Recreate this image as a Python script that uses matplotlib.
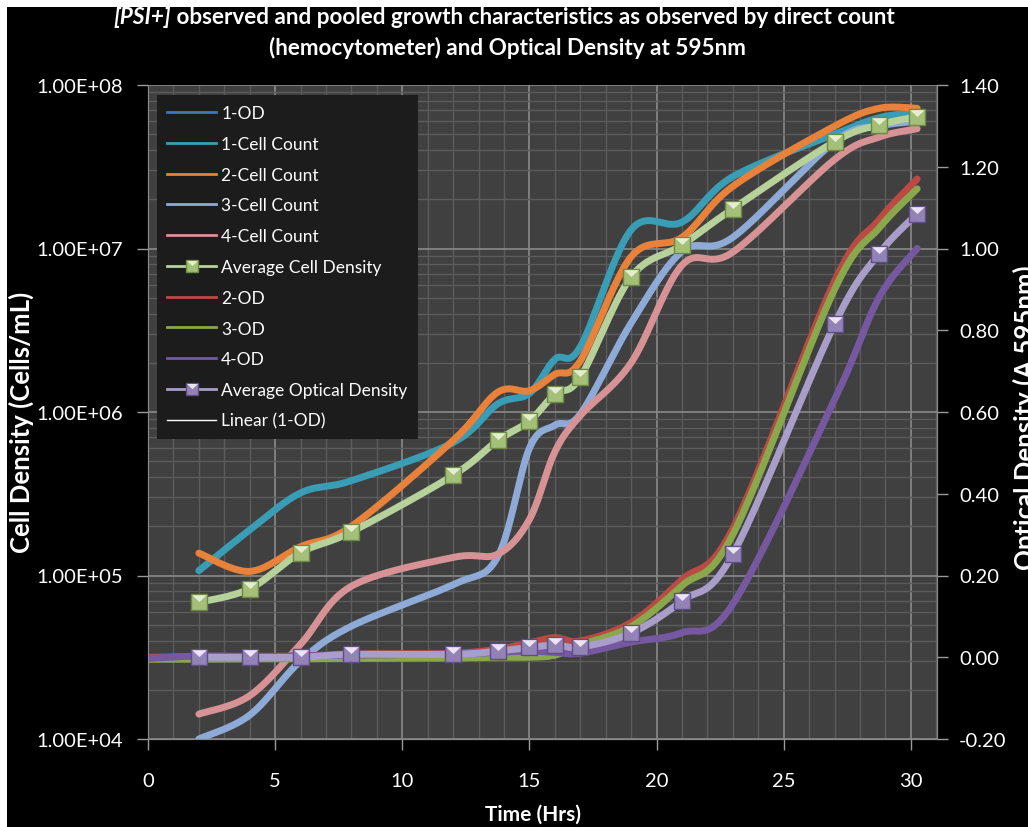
import numpy as np
import matplotlib
matplotlib.use('Agg')
import matplotlib.pyplot as plt
from matplotlib.lines import Line2D
from matplotlib.path import Path
from matplotlib.patches import Rectangle
from matplotlib.legend_handler import HandlerTuple
from matplotlib.ticker import MultipleLocator, LogLocator

plt.rcParams['font.family'] = ['Lato', 'DejaVu Sans']

# sampling times (hours)
cell_time = [2, 4, 6, 8, 12, 13.75, 15, 16, 17, 19, 21, 23, 27, 28.75, 30.25]
od_time = [0, 2, 4, 6, 8, 12, 13.75, 15, 16, 17, 19, 21, 23, 27, 28.75, 30.25]

# direct counts (cells/mL)
cell_count_1 = [1.07e5, 1.9e5, 3.2e5, 3.8e5, 6.5e5, 1.12e6, 1.3e6, 2.1e6, 2.5e6, 1.3e7, 1.45e7, 2.75e7, 5.0e7, 6.3e7, 6.8e7]
cell_count_2 = [1.37e5, 1.06e5, 1.5e5, 2.0e5, 6.7e5, 1.32e6, 1.35e6, 1.7e6, 2.05e6, 8.9e6, 1.17e7, 2.4e7, 5.6e7, 7.2e7, 7.2e7]
cell_count_3 = [1.0e4, 1.4e4, 3.0e4, 4.9e4, 8.8e4, 1.3e5, 6.0e5, 8.3e5, 9.7e5, 3.5e6, 9.6e6, 1.17e7, 4.5e7, 5.6e7, 6.0e7]
cell_count_4 = [1.42e4, 1.84e4, 3.8e4, 8.6e4, 1.29e5, 1.35e5, 2.2e5, 5.7e5, 9.5e5, 2.0e6, 7.9e6, 9.5e6, 3.5e7, 4.8e7, 5.4e7]
avg_cell_density = [6.85e4, 8.3e4, 1.38e5, 1.85e5, 4.1e5, 6.7e5, 8.8e5, 1.29e6, 1.63e6, 6.7e6, 1.05e7, 1.75e7, 4.5e7, 5.7e7, 6.4e7]

# optical density at 595nm
od_1 = []
od_1_time = []
od_2 = [0.0, 0.002, 0.002, 0.003, 0.008, 0.01, 0.02, 0.035, 0.048, 0.04, 0.085, 0.19, 0.315, 0.92, 1.07, 1.17]
od_3 = [-0.005, -0.005, -0.004, -0.004, -0.003, -0.002, 0.0, 0.0, 0.005, 0.03, 0.075, 0.175, 0.30, 0.90, 1.05, 1.146]
od_4 = [-0.003, 0.003, 0.002, 0.003, 0.005, 0.008, 0.012, 0.015, 0.012, 0.01, 0.037, 0.06, 0.13, 0.63, 0.88, 1.0]
avg_od = [0.0, 0.0, 0.0, 0.007, 0.007, 0.015, 0.024, 0.03, 0.025, 0.059, 0.138, 0.252, 0.815, 0.987, 1.085]

cell_ticks = [1e4, 1e5, 1e6, 1e7, 1e8]
cell_tick_labels = ['1.00E+04', '1.00E+05', '1.00E+06', '1.00E+07', '1.00E+08']
od_ticks = [-0.2, 0.0, 0.2, 0.4, 0.6, 0.8, 1.0, 1.2, 1.4]
od_tick_labels = ['-0.20', '0.00', '0.20', '0.40', '0.60', '0.80', '1.00', '1.20', '1.40']
time_ticks = [0, 5, 10, 15, 20, 25, 30]


def smooth(xs, ys, n=40):
    # bezier smoothing through every point, same as a spreadsheet "smoothed line"
    p = np.column_stack([xs, ys]).astype(float)
    p = np.vstack([p[0], p, p[-1]])
    t = np.linspace(0, 1, n)[:, None]
    segs = []
    for i in range(1, len(p) - 2):
        p0, p1, p2, p3 = p[i - 1], p[i], p[i + 1], p[i + 2]
        c1 = p1 + (p2 - p0) / 6
        c2 = p2 - (p3 - p1) / 6
        segs.append((1 - t) ** 3 * p1 + 3 * (1 - t) ** 2 * t * c1 + 3 * (1 - t) * t ** 2 * c2 + t ** 3 * p2)
    c = np.vstack(segs)
    return c[:, 0], c[:, 1]


def log_curve(ax, xs, ys, **kw):
    sx, sy = smooth(xs, np.log10(ys))
    return ax.plot(sx, 10 ** sy, solid_capstyle='round', **kw)[0]


def lin_curve(ax, xs, ys, **kw):
    if len(xs) == 0:
        return ax.plot(xs, ys, **kw)[0]
    sx, sy = smooth(xs, ys)
    return ax.plot(sx, sy, solid_capstyle='round', **kw)[0]


# bevelled square marker: square body plus a lighter triangle on top
bevel = Path([(-0.85, 0.85), (0.85, 0.85), (0.0, 0.05), (-0.85, 0.85)],
             [Path.MOVETO, Path.LINETO, Path.LINETO, Path.CLOSEPOLY])

fig = plt.figure(figsize=(10.28, 8.28), dpi=100, facecolor='white')
fig.add_artist(Rectangle((7 / 1028, 0), 1, 820 / 828, transform=fig.transFigure,
                         facecolor='black', edgecolor='none', zorder=-10))

ax = fig.add_axes([148 / 1028, 88 / 828, 789 / 1028, 654 / 828])
ax.set_facecolor('#404040')
ax.set_yscale('log')
ax.set_ylim(1e4, 1e8)
ax.set_xlim(0, 31.03)
ax.set_axisbelow(True)
ax.xaxis.set_minor_locator(MultipleLocator(1))
ax.yaxis.set_minor_locator(LogLocator(base=10, subs=np.arange(2, 10)))
ax.grid(which='minor', color='#5c5c5c', lw=1.0)
ax.grid(which='major', color='#8a8a8a', lw=1.2)
ax.set_xticks(time_ticks, [str(v) for v in time_ticks])
ax.set_yticks(cell_ticks, cell_tick_labels)
ax.tick_params(which='minor', length=0)
ax.tick_params(which='major', direction='out', length=8, width=1, color='#9a9a9a',
               labelcolor='white', labelsize=14.5)
ax.tick_params(axis='x', pad=16)
ax.tick_params(axis='y', pad=10)
for s in ax.spines.values():
    s.set_color('#8a8a8a')
ax.spines['top'].set_visible(False)

ax2 = ax.twinx()
ax2.set_ylim(-0.2, 1.4)
ax2.set_yticks(od_ticks, od_tick_labels)
ax2.tick_params(which='major', direction='out', length=8, width=1, color='#9a9a9a',
                labelcolor='white', labelsize=14.5, pad=8)
for s in ax2.spines.values():
    s.set_color('#8a8a8a')
ax2.spines['top'].set_visible(False)

lw = 5
styles = {
    '1-OD': '#3f74b8',
    '1-Cell Count': '#3a9db6',
    '2-Cell Count': '#e8823a',
    '3-Cell Count': '#8eabd8',
    '4-Cell Count': '#d69294',
    'Average Cell Density': '#b6d19a',
    '2-OD': '#bb4a44',
    '3-OD': '#88a84b',
    '4-OD': '#7558a0',
    'Average Optical Density': '#a99dc9',
    'Linear (1-OD)': '#ffffff',
}

lin_curve(ax2, od_1_time, od_1, color=styles['1-OD'], lw=lw)
log_curve(ax, cell_time, cell_count_1, color=styles['1-Cell Count'], lw=lw)
log_curve(ax, cell_time, cell_count_2, color=styles['2-Cell Count'], lw=lw)
log_curve(ax, cell_time, cell_count_3, color=styles['3-Cell Count'], lw=lw)
log_curve(ax, cell_time, cell_count_4, color=styles['4-Cell Count'], lw=lw)
log_curve(ax, cell_time, avg_cell_density, color=styles['Average Cell Density'], lw=lw)
ax.plot(cell_time, avg_cell_density, ls='none', marker='s', ms=12,
        mfc='#a3bf78', mec='#6d8a45', mew=1)
ax.plot(cell_time, avg_cell_density, ls='none', marker=bevel, ms=10.5,
        mfc='#e4eecf', mec='none')

lin_curve(ax2, od_time, od_2, color=styles['2-OD'], lw=lw)
lin_curve(ax2, od_time, od_3, color=styles['3-OD'], lw=lw)
lin_curve(ax2, od_time, od_4, color=styles['4-OD'], lw=lw)
lin_curve(ax2, cell_time, avg_od, color=styles['Average Optical Density'], lw=lw)
ax2.plot(cell_time, avg_od, ls='none', marker='s', ms=12,
         mfc='#9282b6', mec='#5f4d85', mew=1)
ax2.plot(cell_time, avg_od, ls='none', marker=bevel, ms=10.5,
         mfc='#ece4f6', mec='none')
ax2.plot(od_1_time, od_1, color=styles['Linear (1-OD)'], lw=1)

# legend entries
handles = []
for name, col in styles.items():
    if name == 'Average Cell Density':
        handles.append((Line2D([], [], color=col, lw=2, marker='s', ms=9, mfc='#a3bf78', mec='#6d8a45'),
                        Line2D([], [], ls='none', marker=bevel, ms=8, mfc='#e4eecf', mec='none')))
    elif name == 'Average Optical Density':
        handles.append((Line2D([], [], color=col, lw=2, marker='s', ms=9, mfc='#9282b6', mec='#5f4d85'),
                        Line2D([], [], ls='none', marker=bevel, ms=8, mfc='#ece4f6', mec='none')))
    else:
        handles.append(Line2D([], [], color=col, lw=2 if name != 'Linear (1-OD)' else 1))
leg = ax2.legend(handles, list(styles.keys()), loc='upper left', bbox_to_anchor=(0.0114, 0.985),
                 frameon=True, facecolor='#1c1c1c', edgecolor='none', framealpha=1, fancybox=False,
                 fontsize=12.5, labelcolor='white', handlelength=2.8, handletextpad=0.3,
                 labelspacing=0.85, borderpad=0.6, borderaxespad=0,
                 handler_map={tuple: HandlerTuple(ndivide=1)})

# title, two lines, first one starts with an italic token
r = fig.canvas.get_renderer()
t1 = fig.text(0, 1 - 18 / 828, '[PSI+]', color='white', fontsize=16.2, fontweight='bold',
              fontstyle='italic', va='center', ha='left')
t2 = fig.text(0, 1 - 18 / 828, ' observed and pooled growth characteristics as observed by direct count',
              color='white', fontsize=16.2, fontweight='bold', va='center', ha='left')
w1 = t1.get_window_extent(r).width
w2 = t2.get_window_extent(r).width
x0 = 504 - (w1 + w2) / 2
t1.set_x(x0 / 1028)
t2.set_x((x0 + w1) / 1028)
fig.text(507 / 1028, 1 - 48 / 828, '(hemocytometer) and Optical Density at 595nm', color='white',
         fontsize=16.2, fontweight='bold', va='center', ha='center')

fig.text(533 / 1028, 1 - 815 / 828, 'Time (Hrs)', color='white', fontsize=15, fontweight='bold',
         ha='center', va='center')
fig.text(21 / 1028, 1 - 422 / 828, 'Cell Density (Cells/mL)', color='white', fontsize=18.5,
         fontweight='bold', ha='center', va='center', rotation=90)
fig.text(1025 / 1028, 1 - 418 / 828, 'Optical Density (A 595nm)', color='white', fontsize=18.5,
         fontweight='bold', ha='center', va='center', rotation=90)

fig.savefig('out.png', dpi=100, facecolor=fig.get_facecolor())
